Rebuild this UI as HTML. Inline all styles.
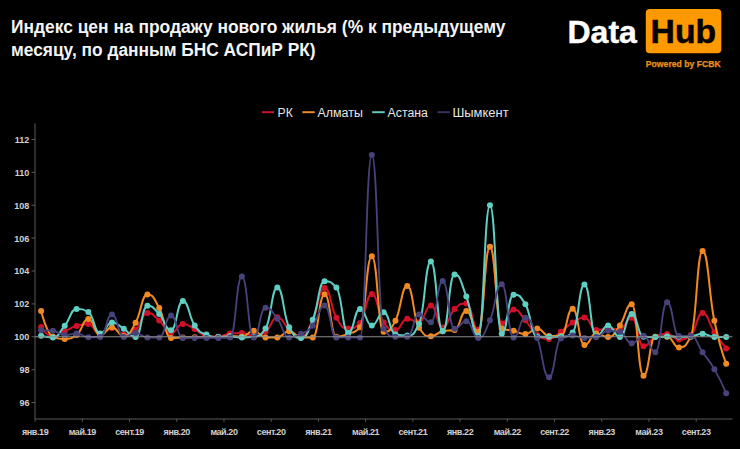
<!DOCTYPE html>
<html><head><meta charset="utf-8"><style>
html,body{margin:0;padding:0;background:#000;}
body{width:740px;height:449px;overflow:hidden;position:relative;font-family:"Liberation Sans",Arial,sans-serif;}
svg{position:absolute;left:0;top:0;}
</style></head><body>
<svg width="740" height="449" viewBox="0 0 740 449">
<rect width="740" height="449" fill="#000"/>
<g font-family="Liberation Sans, Arial, sans-serif" font-weight="bold" font-size="19" fill="#f4f4f4">
<text x="11" y="33" transform="translate(11 0) scale(0.916 1) translate(-11 0)">Индекс цен на продажу нового жилья (% к предыдущему</text>
<text x="11" y="56.3" transform="translate(11 0) scale(0.912 1) translate(-11 0)">месяцу, по данным БНС АСПиР РК)</text>
</g>
<text x="567.5" y="42.9" font-family="Liberation Sans, Arial, sans-serif" font-weight="bold" font-size="32" fill="#ffffff" stroke="#ffffff" stroke-width="0.4">Data</text>
<rect x="645.8" y="9" width="75.5" height="44.2" rx="4" fill="#ff9900"/>
<text x="650.6" y="42.9" font-family="Liberation Sans, Arial, sans-serif" font-weight="bold" font-size="33" fill="#000" stroke="#000" stroke-width="0.5" textLength="65.5" lengthAdjust="spacingAndGlyphs">Hub</text>
<text x="645.8" y="66.9" font-family="Liberation Sans, Arial, sans-serif" font-weight="bold" font-size="8.5" fill="#e8901c" stroke="#e8901c" stroke-width="0.25" textLength="75" lengthAdjust="spacingAndGlyphs">Powered by FCBK</text>
<g stroke-width="2">
<line x1="262" y1="112.2" x2="274" y2="112.2" stroke="#c8142c"/>
<line x1="302.4" y1="112.2" x2="314.7" y2="112.2" stroke="#eb8c28"/>
<line x1="372.2" y1="112.2" x2="384.7" y2="112.2" stroke="#64c8bc"/>
<line x1="437.6" y1="112.2" x2="449.7" y2="112.2" stroke="#37335f"/>
</g>
<g font-family="Liberation Sans, Arial, sans-serif" font-size="12.5" fill="#e6e6e6" lengthAdjust="spacingAndGlyphs">
<text x="277.6" y="117.2" textLength="15.2" lengthAdjust="spacingAndGlyphs">РК</text>
<text x="317.6" y="117.2" textLength="45.2" lengthAdjust="spacingAndGlyphs">Алматы</text>
<text x="387.6" y="117.2" textLength="40.2" lengthAdjust="spacingAndGlyphs">Астана</text>
<text x="452.4" y="117.2" textLength="56.2" lengthAdjust="spacingAndGlyphs">Шымкент</text>
</g>
<line x1="35.0" y1="123.3" x2="35.0" y2="419.0" stroke="#5a5a5a" stroke-width="1"/>
<line x1="35.0" y1="419.0" x2="732.4" y2="419.0" stroke="#5a5a5a" stroke-width="1"/>
<line x1="31.5" y1="402.50" x2="35.0" y2="402.50" stroke="#5a5a5a" stroke-width="1"/>
<line x1="31.5" y1="369.62" x2="35.0" y2="369.62" stroke="#5a5a5a" stroke-width="1"/>
<line x1="31.5" y1="336.75" x2="35.0" y2="336.75" stroke="#5a5a5a" stroke-width="1"/>
<line x1="31.5" y1="303.88" x2="35.0" y2="303.88" stroke="#5a5a5a" stroke-width="1"/>
<line x1="31.5" y1="271.00" x2="35.0" y2="271.00" stroke="#5a5a5a" stroke-width="1"/>
<line x1="31.5" y1="238.12" x2="35.0" y2="238.12" stroke="#5a5a5a" stroke-width="1"/>
<line x1="31.5" y1="205.25" x2="35.0" y2="205.25" stroke="#5a5a5a" stroke-width="1"/>
<line x1="31.5" y1="172.38" x2="35.0" y2="172.38" stroke="#5a5a5a" stroke-width="1"/>
<line x1="31.5" y1="139.50" x2="35.0" y2="139.50" stroke="#5a5a5a" stroke-width="1"/>
<line x1="35.10" y1="419.0" x2="35.10" y2="421.8" stroke="#5a5a5a" stroke-width="1"/>
<line x1="82.32" y1="419.0" x2="82.32" y2="421.8" stroke="#5a5a5a" stroke-width="1"/>
<line x1="129.54" y1="419.0" x2="129.54" y2="421.8" stroke="#5a5a5a" stroke-width="1"/>
<line x1="176.76" y1="419.0" x2="176.76" y2="421.8" stroke="#5a5a5a" stroke-width="1"/>
<line x1="223.98" y1="419.0" x2="223.98" y2="421.8" stroke="#5a5a5a" stroke-width="1"/>
<line x1="271.20" y1="419.0" x2="271.20" y2="421.8" stroke="#5a5a5a" stroke-width="1"/>
<line x1="318.42" y1="419.0" x2="318.42" y2="421.8" stroke="#5a5a5a" stroke-width="1"/>
<line x1="365.64" y1="419.0" x2="365.64" y2="421.8" stroke="#5a5a5a" stroke-width="1"/>
<line x1="412.86" y1="419.0" x2="412.86" y2="421.8" stroke="#5a5a5a" stroke-width="1"/>
<line x1="460.08" y1="419.0" x2="460.08" y2="421.8" stroke="#5a5a5a" stroke-width="1"/>
<line x1="507.30" y1="419.0" x2="507.30" y2="421.8" stroke="#5a5a5a" stroke-width="1"/>
<line x1="554.52" y1="419.0" x2="554.52" y2="421.8" stroke="#5a5a5a" stroke-width="1"/>
<line x1="601.74" y1="419.0" x2="601.74" y2="421.8" stroke="#5a5a5a" stroke-width="1"/>
<line x1="648.96" y1="419.0" x2="648.96" y2="421.8" stroke="#5a5a5a" stroke-width="1"/>
<line x1="696.18" y1="419.0" x2="696.18" y2="421.8" stroke="#5a5a5a" stroke-width="1"/>

<g font-family="Liberation Sans, Arial, sans-serif" font-weight="bold" font-size="9" fill="#d0d0d0"><text x="29.4" y="405.90" text-anchor="end">96</text><text x="29.4" y="373.02" text-anchor="end">98</text><text x="29.4" y="340.15" text-anchor="end">100</text><text x="29.4" y="307.27" text-anchor="end">102</text><text x="29.4" y="274.40" text-anchor="end">104</text><text x="29.4" y="241.53" text-anchor="end">106</text><text x="29.4" y="208.65" text-anchor="end">108</text><text x="29.4" y="175.78" text-anchor="end">110</text><text x="29.4" y="142.90" text-anchor="end">112</text></g>
<g font-family="Liberation Sans, Arial, sans-serif" font-weight="bold" font-size="9" letter-spacing="-0.4" fill="#d0d0d0"><text x="35.10" y="434.6" text-anchor="middle">янв.19</text><text x="82.32" y="434.6" text-anchor="middle">май.19</text><text x="129.54" y="434.6" text-anchor="middle">сент.19</text><text x="176.76" y="434.6" text-anchor="middle">янв.20</text><text x="223.98" y="434.6" text-anchor="middle">май.20</text><text x="271.20" y="434.6" text-anchor="middle">сент.20</text><text x="318.42" y="434.6" text-anchor="middle">янв.21</text><text x="365.64" y="434.6" text-anchor="middle">май.21</text><text x="412.86" y="434.6" text-anchor="middle">сент.21</text><text x="460.08" y="434.6" text-anchor="middle">янв.22</text><text x="507.30" y="434.6" text-anchor="middle">май.22</text><text x="554.52" y="434.6" text-anchor="middle">сент.22</text><text x="601.74" y="434.6" text-anchor="middle">янв.23</text><text x="648.96" y="434.6" text-anchor="middle">май.23</text><text x="696.18" y="434.6" text-anchor="middle">сент.23</text></g>
<path d="M41.10,326.89 C41.10,326.89 47.01,336.75 52.91,336.75 C58.82,336.75 58.82,334.04 64.72,331.33 C70.63,328.61 70.63,327.71 76.54,325.90 C82.44,324.09 82.44,324.09 88.35,324.09 C94.25,324.09 94.25,334.61 100.16,334.61 C106.07,334.61 106.07,328.04 111.97,328.04 C117.88,328.04 117.88,334.61 123.78,334.61 C129.69,334.61 129.69,334.61 135.60,329.68 C141.50,324.75 141.50,312.92 147.41,312.92 C153.31,312.92 153.31,315.46 159.22,320.48 C165.13,325.49 165.13,332.97 171.03,332.97 C176.94,332.97 176.94,323.93 182.84,323.93 C188.75,323.93 188.75,326.02 194.66,329.02 C200.56,332.02 200.56,335.11 206.47,335.93 C212.37,336.75 212.37,336.75 218.28,336.75 C224.19,336.75 224.19,333.96 230.09,333.46 C236.00,332.97 236.00,332.97 241.90,332.97 C247.81,332.97 247.81,335.93 253.72,335.93 C259.62,335.93 259.62,335.93 265.53,331.82 C271.43,327.71 271.43,317.35 277.34,317.35 C283.25,317.35 283.25,324.71 289.15,329.35 C295.06,334.00 295.06,335.93 300.96,335.93 C306.87,335.93 306.87,332.31 312.78,320.31 C318.68,308.31 318.68,287.93 324.59,287.93 C330.49,287.93 330.49,307.70 336.40,317.85 C342.31,328.00 342.31,328.53 348.21,328.53 C354.12,328.53 354.12,328.53 360.02,323.11 C365.93,317.68 365.93,294.01 371.84,294.01 C377.74,294.01 377.74,315.22 383.65,322.61 C389.55,330.01 389.55,330.01 395.46,330.01 C401.37,330.01 401.37,318.83 407.27,318.83 C413.18,318.83 413.18,322.29 419.08,322.29 C424.99,322.29 424.99,305.52 430.90,305.52 C436.80,305.52 436.80,327.38 442.71,327.38 C448.61,327.38 448.61,314.56 454.52,308.97 C460.43,303.38 460.43,303.38 466.33,303.38 C472.24,303.38 472.24,329.68 478.14,329.68 C484.05,329.68 484.05,246.84 489.96,246.84 C495.86,246.84 495.86,323.60 501.77,323.60 C507.67,323.60 507.67,309.46 513.58,309.46 C519.49,309.46 519.49,313.90 525.39,320.31 C531.30,326.72 531.30,331.33 537.20,335.11 C543.11,338.89 543.11,338.89 549.02,338.89 C554.92,338.89 554.92,335.89 560.83,331.82 C566.73,327.75 566.73,326.19 572.64,322.61 C578.55,319.04 578.55,317.52 584.45,317.52 C590.36,317.52 590.36,330.01 596.26,330.01 C602.17,330.01 602.17,329.02 608.08,329.02 C613.98,329.02 613.98,329.02 619.89,329.02 C625.79,329.02 625.79,317.85 631.70,317.85 C637.61,317.85 637.61,346.28 643.51,346.28 C649.42,346.28 649.42,339.54 655.32,336.75 C661.23,333.96 661.23,333.96 667.14,333.96 C673.04,333.96 673.04,339.54 678.95,339.54 C684.85,339.54 684.85,339.54 690.76,335.11 C696.67,330.67 696.67,313.08 702.57,313.08 C708.48,313.08 708.48,323.48 714.38,332.31 C720.29,341.15 726.20,348.42 726.20,348.42" fill="none" stroke="#d3102a" stroke-width="2.0" stroke-linejoin="round"/>
<g fill="#d3102a"><circle cx="41.10" cy="326.89" r="3"/><circle cx="52.91" cy="336.75" r="3"/><circle cx="64.72" cy="331.33" r="3"/><circle cx="76.54" cy="325.90" r="3"/><circle cx="88.35" cy="324.09" r="3"/><circle cx="100.16" cy="334.61" r="3"/><circle cx="111.97" cy="328.04" r="3"/><circle cx="123.78" cy="334.61" r="3"/><circle cx="135.60" cy="329.68" r="3"/><circle cx="147.41" cy="312.92" r="3"/><circle cx="159.22" cy="320.48" r="3"/><circle cx="171.03" cy="332.97" r="3"/><circle cx="182.84" cy="323.93" r="3"/><circle cx="194.66" cy="329.02" r="3"/><circle cx="206.47" cy="335.93" r="3"/><circle cx="218.28" cy="336.75" r="3"/><circle cx="230.09" cy="333.46" r="3"/><circle cx="241.90" cy="332.97" r="3"/><circle cx="253.72" cy="335.93" r="3"/><circle cx="265.53" cy="331.82" r="3"/><circle cx="277.34" cy="317.35" r="3"/><circle cx="289.15" cy="329.35" r="3"/><circle cx="300.96" cy="335.93" r="3"/><circle cx="312.78" cy="320.31" r="3"/><circle cx="324.59" cy="287.93" r="3"/><circle cx="336.40" cy="317.85" r="3"/><circle cx="348.21" cy="328.53" r="3"/><circle cx="360.02" cy="323.11" r="3"/><circle cx="371.84" cy="294.01" r="3"/><circle cx="383.65" cy="322.61" r="3"/><circle cx="395.46" cy="330.01" r="3"/><circle cx="407.27" cy="318.83" r="3"/><circle cx="419.08" cy="322.29" r="3"/><circle cx="430.90" cy="305.52" r="3"/><circle cx="442.71" cy="327.38" r="3"/><circle cx="454.52" cy="308.97" r="3"/><circle cx="466.33" cy="303.38" r="3"/><circle cx="478.14" cy="329.68" r="3"/><circle cx="489.96" cy="246.84" r="3"/><circle cx="501.77" cy="323.60" r="3"/><circle cx="513.58" cy="309.46" r="3"/><circle cx="525.39" cy="320.31" r="3"/><circle cx="537.20" cy="335.11" r="3"/><circle cx="549.02" cy="338.89" r="3"/><circle cx="560.83" cy="331.82" r="3"/><circle cx="572.64" cy="322.61" r="3"/><circle cx="584.45" cy="317.52" r="3"/><circle cx="596.26" cy="330.01" r="3"/><circle cx="608.08" cy="329.02" r="3"/><circle cx="619.89" cy="329.02" r="3"/><circle cx="631.70" cy="317.85" r="3"/><circle cx="643.51" cy="346.28" r="3"/><circle cx="655.32" cy="336.75" r="3"/><circle cx="667.14" cy="333.96" r="3"/><circle cx="678.95" cy="339.54" r="3"/><circle cx="690.76" cy="335.11" r="3"/><circle cx="702.57" cy="313.08" r="3"/><circle cx="714.38" cy="332.31" r="3"/><circle cx="726.20" cy="348.42" r="3"/></g>
<path d="M41.10,310.94 C41.10,310.94 47.01,334.61 52.91,336.75 C58.82,338.89 58.82,338.89 64.72,338.89 C70.63,338.89 70.63,338.89 76.54,335.11 C82.44,331.33 82.44,319.00 88.35,319.00 C94.25,319.00 94.25,335.11 100.16,335.11 C106.07,335.11 106.07,327.22 111.97,327.22 C117.88,327.22 117.88,335.93 123.78,335.93 C129.69,335.93 129.69,333.13 135.60,322.78 C141.50,312.42 141.50,294.51 147.41,294.51 C153.31,294.51 153.31,297.14 159.22,307.98 C165.13,318.83 165.13,337.90 171.03,337.90 C176.94,337.90 176.94,337.57 182.84,337.41 C188.75,337.24 188.75,337.33 194.66,337.24 C200.56,337.16 200.56,337.08 206.47,337.08 C212.37,337.08 212.37,337.08 218.28,337.08 C224.19,337.08 224.19,335.93 230.09,335.93 C236.00,335.93 236.00,336.75 241.90,336.75 C247.81,336.75 247.81,330.83 253.72,330.83 C259.62,330.83 259.62,337.41 265.53,337.41 C271.43,337.41 271.43,337.41 277.34,337.41 C283.25,337.41 283.25,331.16 289.15,331.16 C295.06,331.16 295.06,337.41 300.96,337.41 C306.87,337.41 306.87,337.41 312.78,337.41 C318.68,337.41 318.68,294.34 324.59,294.34 C330.49,294.34 330.49,336.75 336.40,336.75 C342.31,336.75 342.31,336.17 348.21,333.79 C354.12,331.41 354.12,333.79 360.02,327.22 C365.93,320.64 365.93,256.21 371.84,256.21 C377.74,256.21 377.74,331.82 383.65,331.82 C389.55,331.82 389.55,331.82 395.46,320.64 C401.37,309.46 401.37,286.12 407.27,286.12 C413.18,286.12 413.18,319.16 419.08,327.71 C424.99,336.26 424.99,336.26 430.90,336.26 C436.80,336.26 436.80,332.31 442.71,331.16 C448.61,330.01 448.61,331.16 454.52,330.01 C460.43,328.86 460.43,310.94 466.33,310.94 C472.24,310.94 472.24,331.82 478.14,331.82 C484.05,331.82 484.05,246.84 489.96,246.84 C495.86,246.84 495.86,326.39 501.77,328.53 C507.67,330.67 507.67,329.27 513.58,330.67 C519.49,332.07 519.49,334.12 525.39,334.12 C531.30,334.12 531.30,328.53 537.20,328.53 C543.11,328.53 543.11,335.93 549.02,335.93 C554.92,335.93 554.92,335.93 560.83,335.93 C566.73,335.93 566.73,308.81 572.64,308.81 C578.55,308.81 578.55,344.97 584.45,344.97 C590.36,344.97 590.36,333.46 596.26,333.46 C602.17,333.46 602.17,337.08 608.08,337.08 C613.98,337.08 613.98,333.59 619.89,325.41 C625.79,317.23 625.79,304.37 631.70,304.37 C637.61,304.37 637.61,375.71 643.51,375.71 C649.42,375.71 649.42,336.75 655.32,336.75 C661.23,336.75 661.23,336.75 667.14,336.75 C673.04,336.75 673.04,347.43 678.95,347.43 C684.85,347.43 684.85,347.43 690.76,336.75 C696.67,326.07 696.67,251.11 702.57,251.11 C708.48,251.11 708.48,292.66 714.38,320.81 C720.29,348.95 726.20,363.71 726.20,363.71" fill="none" stroke="#f28a22" stroke-width="2.0" stroke-linejoin="round"/>
<g fill="#f28a22"><circle cx="41.10" cy="310.94" r="3"/><circle cx="52.91" cy="336.75" r="3"/><circle cx="64.72" cy="338.89" r="3"/><circle cx="76.54" cy="335.11" r="3"/><circle cx="88.35" cy="319.00" r="3"/><circle cx="100.16" cy="335.11" r="3"/><circle cx="111.97" cy="327.22" r="3"/><circle cx="123.78" cy="335.93" r="3"/><circle cx="135.60" cy="322.78" r="3"/><circle cx="147.41" cy="294.51" r="3"/><circle cx="159.22" cy="307.98" r="3"/><circle cx="171.03" cy="337.90" r="3"/><circle cx="182.84" cy="337.41" r="3"/><circle cx="194.66" cy="337.24" r="3"/><circle cx="206.47" cy="337.08" r="3"/><circle cx="218.28" cy="337.08" r="3"/><circle cx="230.09" cy="335.93" r="3"/><circle cx="241.90" cy="336.75" r="3"/><circle cx="253.72" cy="330.83" r="3"/><circle cx="265.53" cy="337.41" r="3"/><circle cx="277.34" cy="337.41" r="3"/><circle cx="289.15" cy="331.16" r="3"/><circle cx="300.96" cy="337.41" r="3"/><circle cx="312.78" cy="337.41" r="3"/><circle cx="324.59" cy="294.34" r="3"/><circle cx="336.40" cy="336.75" r="3"/><circle cx="348.21" cy="333.79" r="3"/><circle cx="360.02" cy="327.22" r="3"/><circle cx="371.84" cy="256.21" r="3"/><circle cx="383.65" cy="331.82" r="3"/><circle cx="395.46" cy="320.64" r="3"/><circle cx="407.27" cy="286.12" r="3"/><circle cx="419.08" cy="327.71" r="3"/><circle cx="430.90" cy="336.26" r="3"/><circle cx="442.71" cy="331.16" r="3"/><circle cx="454.52" cy="330.01" r="3"/><circle cx="466.33" cy="310.94" r="3"/><circle cx="478.14" cy="331.82" r="3"/><circle cx="489.96" cy="246.84" r="3"/><circle cx="501.77" cy="328.53" r="3"/><circle cx="513.58" cy="330.67" r="3"/><circle cx="525.39" cy="334.12" r="3"/><circle cx="537.20" cy="328.53" r="3"/><circle cx="549.02" cy="335.93" r="3"/><circle cx="560.83" cy="335.93" r="3"/><circle cx="572.64" cy="308.81" r="3"/><circle cx="584.45" cy="344.97" r="3"/><circle cx="596.26" cy="333.46" r="3"/><circle cx="608.08" cy="337.08" r="3"/><circle cx="619.89" cy="325.41" r="3"/><circle cx="631.70" cy="304.37" r="3"/><circle cx="643.51" cy="375.71" r="3"/><circle cx="655.32" cy="336.75" r="3"/><circle cx="667.14" cy="336.75" r="3"/><circle cx="678.95" cy="347.43" r="3"/><circle cx="690.76" cy="336.75" r="3"/><circle cx="702.57" cy="251.11" r="3"/><circle cx="714.38" cy="320.81" r="3"/><circle cx="726.20" cy="363.71" r="3"/></g>
<path d="M41.10,335.76 C41.10,335.76 47.01,337.41 52.91,337.41 C58.82,337.41 58.82,332.85 64.72,325.74 C70.63,318.63 70.63,308.97 76.54,308.97 C82.44,308.97 82.44,308.97 88.35,312.09 C94.25,315.22 94.25,333.46 100.16,333.46 C106.07,333.46 106.07,322.45 111.97,322.45 C117.88,322.45 117.88,325.04 123.78,328.70 C129.69,332.35 129.69,337.08 135.60,337.08 C141.50,337.08 141.50,305.85 147.41,305.85 C153.31,305.85 153.31,307.98 159.22,314.07 C165.13,320.15 165.13,330.17 171.03,330.17 C176.94,330.17 176.94,301.08 182.84,301.08 C188.75,301.08 188.75,317.03 194.66,325.41 C200.56,333.79 200.56,332.15 206.47,334.61 C212.37,337.08 212.37,337.08 218.28,337.08 C224.19,337.08 224.19,336.42 230.09,336.42 C236.00,336.42 236.00,337.41 241.90,337.41 C247.81,337.41 247.81,337.41 253.72,336.75 C259.62,336.09 259.62,336.75 265.53,328.53 C271.43,320.31 271.43,287.60 277.34,287.60 C283.25,287.60 283.25,316.53 289.15,327.22 C295.06,337.90 295.06,337.90 300.96,337.90 C306.87,337.90 306.87,333.96 312.78,319.82 C318.68,305.68 318.68,281.36 324.59,281.36 C330.49,281.36 330.49,281.36 336.40,287.60 C342.31,293.85 342.31,332.97 348.21,332.97 C354.12,332.97 354.12,308.97 360.02,308.97 C365.93,308.97 365.93,325.57 371.84,325.57 C377.74,325.57 377.74,312.26 383.65,312.26 C389.55,312.26 389.55,333.30 395.46,334.45 C401.37,335.60 401.37,335.60 407.27,335.60 C413.18,335.60 413.18,335.60 419.08,323.93 C424.99,312.26 424.99,261.47 430.90,261.47 C436.80,261.47 436.80,331.16 442.71,331.16 C448.61,331.16 448.61,274.45 454.52,274.45 C460.43,274.45 460.43,281.11 466.33,296.48 C472.24,311.85 472.24,335.93 478.14,335.93 C484.05,335.93 484.05,205.25 489.96,205.25 C495.86,205.25 495.86,333.63 501.77,333.63 C507.67,333.63 507.67,294.67 513.58,294.67 C519.49,294.67 519.49,294.67 525.39,304.20 C531.30,313.74 531.30,336.75 537.20,336.75 C543.11,336.75 543.11,336.75 549.02,336.75 C554.92,336.75 554.92,336.75 560.83,336.75 C566.73,336.75 566.73,336.75 572.64,332.48 C578.55,328.20 578.55,284.48 584.45,284.48 C590.36,284.48 590.36,336.75 596.26,336.75 C602.17,336.75 602.17,325.41 608.08,325.41 C613.98,325.41 613.98,337.08 619.89,337.08 C625.79,337.08 625.79,314.07 631.70,314.07 C637.61,314.07 637.61,336.42 643.51,336.75 C649.42,337.08 649.42,337.08 655.32,337.08 C661.23,337.08 661.23,336.42 667.14,336.42 C673.04,336.42 673.04,336.75 678.95,336.75 C684.85,336.75 684.85,336.75 690.76,336.42 C696.67,336.09 696.67,333.79 702.57,333.79 C708.48,333.79 708.48,336.91 714.38,336.91 C720.29,336.91 726.20,336.91 726.20,336.91" fill="none" stroke="#5fcfc3" stroke-width="2.0" stroke-linejoin="round"/>
<g fill="#5fcfc3"><circle cx="41.10" cy="335.76" r="3"/><circle cx="52.91" cy="337.41" r="3"/><circle cx="64.72" cy="325.74" r="3"/><circle cx="76.54" cy="308.97" r="3"/><circle cx="88.35" cy="312.09" r="3"/><circle cx="100.16" cy="333.46" r="3"/><circle cx="111.97" cy="322.45" r="3"/><circle cx="123.78" cy="328.70" r="3"/><circle cx="135.60" cy="337.08" r="3"/><circle cx="147.41" cy="305.85" r="3"/><circle cx="159.22" cy="314.07" r="3"/><circle cx="171.03" cy="330.17" r="3"/><circle cx="182.84" cy="301.08" r="3"/><circle cx="194.66" cy="325.41" r="3"/><circle cx="206.47" cy="334.61" r="3"/><circle cx="218.28" cy="337.08" r="3"/><circle cx="230.09" cy="336.42" r="3"/><circle cx="241.90" cy="337.41" r="3"/><circle cx="253.72" cy="336.75" r="3"/><circle cx="265.53" cy="328.53" r="3"/><circle cx="277.34" cy="287.60" r="3"/><circle cx="289.15" cy="327.22" r="3"/><circle cx="300.96" cy="337.90" r="3"/><circle cx="312.78" cy="319.82" r="3"/><circle cx="324.59" cy="281.36" r="3"/><circle cx="336.40" cy="287.60" r="3"/><circle cx="348.21" cy="332.97" r="3"/><circle cx="360.02" cy="308.97" r="3"/><circle cx="371.84" cy="325.57" r="3"/><circle cx="383.65" cy="312.26" r="3"/><circle cx="395.46" cy="334.45" r="3"/><circle cx="407.27" cy="335.60" r="3"/><circle cx="419.08" cy="323.93" r="3"/><circle cx="430.90" cy="261.47" r="3"/><circle cx="442.71" cy="331.16" r="3"/><circle cx="454.52" cy="274.45" r="3"/><circle cx="466.33" cy="296.48" r="3"/><circle cx="478.14" cy="335.93" r="3"/><circle cx="489.96" cy="205.25" r="3"/><circle cx="501.77" cy="333.63" r="3"/><circle cx="513.58" cy="294.67" r="3"/><circle cx="525.39" cy="304.20" r="3"/><circle cx="537.20" cy="336.75" r="3"/><circle cx="549.02" cy="336.75" r="3"/><circle cx="560.83" cy="336.75" r="3"/><circle cx="572.64" cy="332.48" r="3"/><circle cx="584.45" cy="284.48" r="3"/><circle cx="596.26" cy="336.75" r="3"/><circle cx="608.08" cy="325.41" r="3"/><circle cx="619.89" cy="337.08" r="3"/><circle cx="631.70" cy="314.07" r="3"/><circle cx="643.51" cy="336.75" r="3"/><circle cx="655.32" cy="337.08" r="3"/><circle cx="667.14" cy="336.42" r="3"/><circle cx="678.95" cy="336.75" r="3"/><circle cx="690.76" cy="336.42" r="3"/><circle cx="702.57" cy="333.79" r="3"/><circle cx="714.38" cy="336.91" r="3"/><circle cx="726.20" cy="336.91" r="3"/></g>
<path d="M41.10,330.17 C41.10,330.17 47.01,330.17 52.91,330.67 C58.82,331.16 58.82,335.11 64.72,335.11 C70.63,335.11 70.63,333.46 76.54,333.46 C82.44,333.46 82.44,337.24 88.35,337.24 C94.25,337.24 94.25,337.24 100.16,337.08 C106.07,336.91 106.07,314.56 111.97,314.56 C117.88,314.56 117.88,337.08 123.78,337.08 C129.69,337.08 129.69,332.97 135.60,332.97 C141.50,332.97 141.50,337.57 147.41,337.57 C153.31,337.57 153.31,337.57 159.22,337.57 C165.13,337.57 165.13,315.55 171.03,315.55 C176.94,315.55 176.94,337.90 182.84,337.90 C188.75,337.90 188.75,337.90 194.66,337.90 C200.56,337.90 200.56,337.90 206.47,337.90 C212.37,337.90 212.37,337.90 218.28,337.90 C224.19,337.90 224.19,337.90 230.09,337.57 C236.00,337.24 236.00,276.42 241.90,276.42 C247.81,276.42 247.81,337.41 253.72,337.41 C259.62,337.41 259.62,307.66 265.53,307.66 C271.43,307.66 271.43,311.23 277.34,318.67 C283.25,326.11 283.25,337.41 289.15,337.41 C295.06,337.41 295.06,336.71 300.96,333.79 C306.87,330.87 306.87,332.81 312.78,325.74 C318.68,318.67 318.68,305.52 324.59,305.52 C330.49,305.52 330.49,337.41 336.40,337.41 C342.31,337.41 342.31,337.41 348.21,337.41 C354.12,337.41 354.12,337.41 360.02,337.41 C365.93,337.41 365.93,154.95 371.84,154.95 C377.74,154.95 377.74,320.97 383.65,328.86 C389.55,336.75 389.55,336.75 395.46,336.75 C401.37,336.75 401.37,336.75 407.27,336.75 C413.18,336.75 413.18,314.56 419.08,314.56 C424.99,314.56 424.99,322.29 430.90,322.29 C436.80,322.29 436.80,281.03 442.71,281.03 C448.61,281.03 448.61,328.86 454.52,328.86 C460.43,328.86 460.43,321.13 466.33,321.13 C472.24,321.13 472.24,337.90 478.14,337.90 C484.05,337.90 484.05,333.75 489.96,320.31 C495.86,306.87 495.86,284.15 501.77,284.15 C507.67,284.15 507.67,337.57 513.58,337.57 C519.49,337.57 519.49,317.68 525.39,317.68 C531.30,317.68 531.30,322.98 537.20,337.90 C543.11,352.82 543.11,377.35 549.02,377.35 C554.92,377.35 554.92,341.19 560.83,338.39 C566.73,335.60 566.73,335.60 572.64,335.60 C578.55,335.60 578.55,337.90 584.45,337.90 C590.36,337.90 590.36,337.90 596.26,337.08 C602.17,336.26 602.17,330.83 608.08,330.83 C613.98,330.83 613.98,330.83 619.89,331.82 C625.79,332.81 625.79,343.33 631.70,343.33 C637.61,343.33 637.61,335.76 643.51,335.76 C649.42,335.76 649.42,352.20 655.32,352.20 C661.23,352.20 661.23,302.23 667.14,302.23 C673.04,302.23 673.04,335.93 678.95,335.93 C684.85,335.93 684.85,335.93 690.76,335.93 C696.67,335.93 696.67,343.90 702.57,352.20 C708.48,360.50 708.48,358.90 714.38,369.13 C720.29,379.36 726.20,393.13 726.20,393.13" fill="none" stroke="#47427a" stroke-width="1.8" stroke-linejoin="round"/>
<g fill="#47427a"><circle cx="41.10" cy="330.17" r="3"/><circle cx="52.91" cy="330.67" r="3"/><circle cx="64.72" cy="335.11" r="3"/><circle cx="76.54" cy="333.46" r="3"/><circle cx="88.35" cy="337.24" r="3"/><circle cx="100.16" cy="337.08" r="3"/><circle cx="111.97" cy="314.56" r="3"/><circle cx="123.78" cy="337.08" r="3"/><circle cx="135.60" cy="332.97" r="3"/><circle cx="147.41" cy="337.57" r="3"/><circle cx="159.22" cy="337.57" r="3"/><circle cx="171.03" cy="315.55" r="3"/><circle cx="182.84" cy="337.90" r="3"/><circle cx="194.66" cy="337.90" r="3"/><circle cx="206.47" cy="337.90" r="3"/><circle cx="218.28" cy="337.90" r="3"/><circle cx="230.09" cy="337.57" r="3"/><circle cx="241.90" cy="276.42" r="3"/><circle cx="253.72" cy="337.41" r="3"/><circle cx="265.53" cy="307.66" r="3"/><circle cx="277.34" cy="318.67" r="3"/><circle cx="289.15" cy="337.41" r="3"/><circle cx="300.96" cy="333.79" r="3"/><circle cx="312.78" cy="325.74" r="3"/><circle cx="324.59" cy="305.52" r="3"/><circle cx="336.40" cy="337.41" r="3"/><circle cx="348.21" cy="337.41" r="3"/><circle cx="360.02" cy="337.41" r="3"/><circle cx="371.84" cy="154.95" r="3"/><circle cx="383.65" cy="328.86" r="3"/><circle cx="395.46" cy="336.75" r="3"/><circle cx="407.27" cy="336.75" r="3"/><circle cx="419.08" cy="314.56" r="3"/><circle cx="430.90" cy="322.29" r="3"/><circle cx="442.71" cy="281.03" r="3"/><circle cx="454.52" cy="328.86" r="3"/><circle cx="466.33" cy="321.13" r="3"/><circle cx="478.14" cy="337.90" r="3"/><circle cx="489.96" cy="320.31" r="3"/><circle cx="501.77" cy="284.15" r="3"/><circle cx="513.58" cy="337.57" r="3"/><circle cx="525.39" cy="317.68" r="3"/><circle cx="537.20" cy="337.90" r="3"/><circle cx="549.02" cy="377.35" r="3"/><circle cx="560.83" cy="338.39" r="3"/><circle cx="572.64" cy="335.60" r="3"/><circle cx="584.45" cy="337.90" r="3"/><circle cx="596.26" cy="337.08" r="3"/><circle cx="608.08" cy="330.83" r="3"/><circle cx="619.89" cy="331.82" r="3"/><circle cx="631.70" cy="343.33" r="3"/><circle cx="643.51" cy="335.76" r="3"/><circle cx="655.32" cy="352.20" r="3"/><circle cx="667.14" cy="302.23" r="3"/><circle cx="678.95" cy="335.93" r="3"/><circle cx="690.76" cy="335.93" r="3"/><circle cx="702.57" cy="352.20" r="3"/><circle cx="714.38" cy="369.13" r="3"/><circle cx="726.20" cy="393.13" r="3"/></g>

<line x1="35.0" y1="336.75" x2="732.4" y2="336.75" stroke="#8c8c8c" stroke-width="1"/>
</svg>
</body></html>
